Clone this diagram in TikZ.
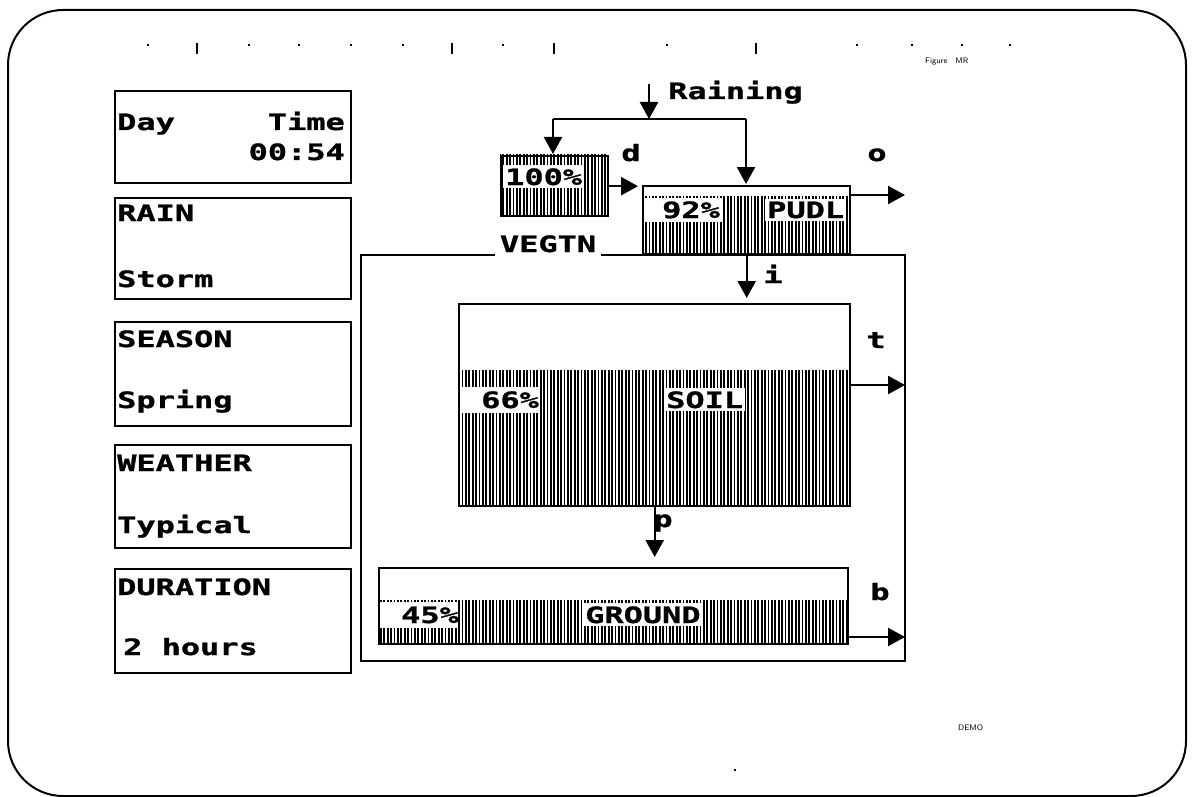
\documentclass[tikz,border=0pt]{standalone}
\usepackage{fontspec}
\usetikzlibrary{arrows.meta,patterns.meta}
\newfontfamily\pixfam[FakeStretch=1.42,FakeBold=1.2]{DejaVu Sans Mono}
\newcommand\pixfont{\pixfam\bfseries\fontsize{22.5}{24}\selectfont}
\newcommand\tinyfont{\sffamily\fontsize{8}{9}\selectfont}
\tikzset{
  lbl/.style={font=\pixfont, inner sep=0pt, anchor=base west},
  panel/.style={draw, line width=2.4pt, anchor=north west, inner sep=0pt},
  flow/.style={line width=2.4pt, -{Triangle[width=18pt,length=17pt]}},
  hatch/.style={pattern={Lines[angle=90,distance=3.4pt,line width=1.8pt]}},
  blank/.style={fill=white, inner xsep=2pt, inner ysep=3pt},
  tick/.style={line width=1.5pt},
}
\begin{document}
\begin{tikzpicture}[x=1pt,y=-1pt]
\useasboundingbox (0,0) rectangle (1194,797);
% outer frame
\draw[line width=2pt, rounded corners=55pt] (8,10) rectangle (1186,796);
% top tick marks
\foreach \xx in {148,249,299,351,403,503,667,857,912,962,1010}
  \draw[tick] (\xx,44) -- (\xx,46.5);
\foreach \xx in {197,452,554,756}
  \draw[tick] (\xx,43) -- (\xx,54);
\draw[tick] (735,769) -- (735,771);
\node[font=\tinyfont, anchor=base west, inner sep=0pt] (fig) at (925,64) {Figure\quad MR};
\node[font=\tinyfont, anchor=base west, inner sep=0pt] (demo) at (958,730) {DEMO};

% left panels
\node[panel, minimum width=236pt, minimum height=92pt] (dayp) at (114,90) {};
\node[lbl] (day) at (117,130) {Day};
\node[lbl, anchor=base east] (time) at (345,130) {Time};
\node[lbl, anchor=base east] (clock) at (345,160) {00:54};

\node[panel, minimum width=236pt, minimum height=101pt] (rainp) at (114,197) {};
\node[lbl] (rainl) at (117,221) {RAIN};
\node[lbl] (rainv) at (117,287) {Storm};

\node[panel, minimum width=236pt, minimum height=104pt] (seasp) at (114,321) {};
\node[lbl] (seasl) at (117,347) {SEASON};
\node[lbl] (seasv) at (117,408) {Spring};

\node[panel, minimum width=236pt, minimum height=103pt] (weap) at (114,444) {};
\node[lbl] (weal) at (117,471) {WEATHER};
\node[lbl] (weav) at (117,533) {Typical};

\node[panel, minimum width=236pt, minimum height=104pt] (durp) at (114,568) {};
\node[lbl] (durl) at (117,595) {DURATION};
\node[lbl] (durv) at (123,655) {2 hours};

% main frame
\draw[line width=2.4pt] (495,255) -- (361,255) -- (361,661) -- (905,661) -- (905,255) -- (601,255);
\node[lbl, anchor=base] (vegl) at (548,252) {VEGTN};

% VEGTN store
\fill[hatch] (500,155) rectangle (607,215);
\node[lbl, blank] (vegt) at (503,185) {100\%};
\node[panel, minimum width=107pt, minimum height=60pt] (veg) at (500,155) {};

% PUDL store
\fill[hatch] (642,196) rectangle (849,253);
\fill[white] (644,198) rectangle (722,222);
\node[lbl] (pudt) at (662,218) {92\%};
\node[lbl, blank] (pudn) at (765,218) {PUDL};
\node[panel, minimum width=207pt, minimum height=68pt] (pudl) at (642,185) {};

% SOIL store
\fill[hatch] (458,370) rectangle (849,505);
\fill[white] (460,387) rectangle (539,413);
\node[lbl] (soilt) at (481,408) {66\%};
\node[lbl, blank] (soiln) at (664,408) {SOIL};
\node[panel, minimum width=391pt, minimum height=202pt] (soil) at (458,303) {};

% GROUND store
\fill[hatch] (378,600) rectangle (847,643);
\fill[white] (380,602) rectangle (458,628);
\node[lbl] (grt) at (401,623) {45\%};
\node[lbl, blank] (grn) at (583,623) {GROUND};
\node[panel, minimum width=469pt, minimum height=76pt] (ground) at (378,567) {};

% rain inputs
\coordinate (rain) at (649,84);
\coordinate (rl) at (553,119);
\coordinate (rr) at (746,119);
\node[lbl] (rainlab) at (668,99) {Raining};
\draw[flow] (rain) -- (rain |- rl);
\draw[line width=2.4pt] (rl) -- (rr);
\draw[flow, shorten >=1pt] (rl) -- (rl |- veg.north);
\draw[flow, shorten >=1pt] (rr) -- (rr |- pudl.north);

% flows
\draw[flow, shorten >=4pt] (veg.east) -- (veg.east -| pudl.west);
\node[lbl, anchor=base] (dlab) at (631,161) {d};

\coordinate (oend) at (905,195);
\draw[flow] (pudl.east |- oend) -- (oend);
\node[lbl, anchor=base] (olab) at (877,161) {o};

\draw[flow, shorten >=5pt] (pudl.south) -- (pudl.south |- soil.north);
\node[lbl, anchor=base] (ilab) at (773,283) {i};

\coordinate (tend) at (905,385);
\draw[flow] (soil.east |- tend) -- (tend);
\node[lbl, anchor=base] (tlab) at (876,348) {t};

\draw[flow, shorten >=10pt] (soil.south) -- (soil.south |- ground.north);
\node[lbl, anchor=base] (plab) at (663,527) {p};

\coordinate (bend) at (905,637);
\draw[flow] (ground.east |- bend) -- (bend);
\node[lbl, anchor=base] (blab) at (880,600) {b};
\end{tikzpicture}
\end{document}
